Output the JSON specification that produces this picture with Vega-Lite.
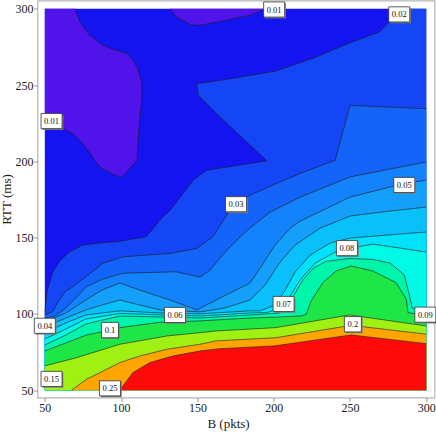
{
"$schema":"https://vega.github.io/schema/vega-lite/v6.json",
"autosize":"none","width":397,"height":397,
"padding":{"left":37.5,"top":0.5,"right":1.5,"bottom":34.5},
"background":"white",
"config":{"view":{"stroke":"#b4b4b4","strokeWidth":1.2}},
"datasets":{
"poly":[
{"l":"p00","i":0,"B":50,"R":300,"e":1},{"l":"p00","i":1,"B":300,"R":300,"e":1},{"l":"p00","i":2,"B":300,"R":50,"e":1},{"l":"p00","i":3,"B":50,"R":50,"e":1},
{"l":"bA","i":0,"B":50,"R":300,"e":1},{"l":"bA","i":1,"B":69.7,"R":300},{"l":"bA","i":2,"B":73,"R":291.2},{"l":"bA","i":3,"B":79.5,"R":282.5},{"l":"bA","i":4,"B":88.1,"R":276},{"l":"bA","i":5,"B":97.2,"R":272.7},{"l":"bA","i":6,"B":103.8,"R":270.7},{"l":"bA","i":7,"B":107.7,"R":266.2},{"l":"bA","i":8,"B":111,"R":260.9},{"l":"bA","i":9,"B":113.6,"R":251.1},{"l":"bA","i":10,"B":113.6,"R":240},{"l":"bA","i":11,"B":111.7,"R":222.3},{"l":"bA","i":12,"B":110.4,"R":200.7},{"l":"bA","i":13,"B":100.5,"R":189.6},{"l":"bA","i":14,"B":94.6,"R":191.6},{"l":"bA","i":15,"B":86.1,"R":196.2},{"l":"bA","i":16,"B":82.8,"R":200.7},{"l":"bA","i":17,"B":78.2,"R":207.3},{"l":"bA","i":18,"B":73,"R":213.8},{"l":"bA","i":19,"B":67.7,"R":218.4},{"l":"bA","i":20,"B":61.8,"R":221.6},{"l":"bA","i":21,"B":50,"R":223.6},
{"l":"bB","i":0,"B":132,"R":300},{"l":"bB","i":1,"B":136.4,"R":294.5},{"l":"bB","i":2,"B":145.1,"R":289.7},{"l":"bB","i":3,"B":151.7,"R":289.1},{"l":"bB","i":4,"B":162.2,"R":291.2},{"l":"bB","i":5,"B":184.1,"R":295.6},{"l":"bB","i":6,"B":195,"R":300},
{"l":"p02","i":0,"B":286.2,"R":300},{"l":"p02","i":1,"B":275.7,"R":291.2},{"l":"p02","i":2,"B":269.2,"R":284.7},{"l":"p02","i":3,"B":249.5,"R":277.5},{"l":"p02","i":4,"B":227.8,"R":268.3},{"l":"p02","i":5,"B":201.6,"R":259.2},{"l":"p02","i":6,"B":162.2,"R":252.6},{"l":"p02","i":7,"B":149.5,"R":250.9},{"l":"p02","i":8,"B":150.6,"R":243.3},{"l":"p02","i":9,"B":164.8,"R":229.1},{"l":"p02","i":10,"B":195.5,"R":200.3},{"l":"p02","i":11,"B":156.1,"R":194.2},{"l":"p02","i":12,"B":147.3,"R":187.6},{"l":"p02","i":13,"B":132.2,"R":168},{"l":"p02","i":14,"B":127.6,"R":164},{"l":"p02","i":15,"B":116.5,"R":150.7},{"l":"p02","i":16,"B":99,"R":147.5},{"l":"p02","i":17,"B":86,"R":146.5},{"l":"p02","i":18,"B":74.7,"R":145},{"l":"p02","i":19,"B":66,"R":140.5},{"l":"p02","i":20,"B":59.8,"R":134.6},{"l":"p02","i":21,"B":55,"R":127},{"l":"p02","i":22,"B":51.5,"R":115},{"l":"p02","i":23,"B":50.5,"R":106},{"l":"p02","i":24,"B":50,"R":100.8},{"l":"p02","i":25,"B":50,"R":50,"e":1},{"l":"p02","i":26,"B":300,"R":50,"e":1},{"l":"p02","i":27,"B":300,"R":300,"e":1},
{"l":"p03","i":0,"B":50,"R":99.3},{"l":"p03","i":1,"B":55.1,"R":101.4},{"l":"p03","i":2,"B":59.4,"R":109.1},{"l":"p03","i":3,"B":63.8,"R":115},{"l":"p03","i":4,"B":68.2,"R":117.6},{"l":"p03","i":5,"B":76.9,"R":124.3},{"l":"p03","i":6,"B":87.9,"R":133.1},{"l":"p03","i":7,"B":101,"R":137.4},{"l":"p03","i":8,"B":132,"R":139.6},{"l":"p03","i":9,"B":149.5,"R":142.9},{"l":"p03","i":10,"B":160.2,"R":150.5},{"l":"p03","i":11,"B":169.2,"R":164.7},{"l":"p03","i":12,"B":175.3,"R":171.9},{"l":"p03","i":13,"B":184.5,"R":177.8},{"l":"p03","i":14,"B":204.2,"R":186.5},{"l":"p03","i":15,"B":217.3,"R":192},{"l":"p03","i":16,"B":240.3,"R":200.7},{"l":"p03","i":17,"B":250.1,"R":236.7},{"l":"p03","i":18,"B":300,"R":234.5},{"l":"p03","i":19,"B":300,"R":50,"e":1},{"l":"p03","i":20,"B":50,"R":50,"e":1},
{"l":"p04","i":0,"B":50,"R":97.3},{"l":"p04","i":1,"B":56.6,"R":98.6},{"l":"p04","i":2,"B":63.8,"R":103.8},{"l":"p04","i":3,"B":70.3,"R":110.4},{"l":"p04","i":4,"B":76.9,"R":117.6},{"l":"p04","i":5,"B":87.9,"R":122.8},{"l":"p04","i":6,"B":101,"R":126.6},{"l":"p04","i":7,"B":136,"R":127.6},{"l":"p04","i":8,"B":151.7,"R":124.1},{"l":"p04","i":9,"B":158.3,"R":128.7},{"l":"p04","i":10,"B":168.1,"R":140.5},{"l":"p04","i":11,"B":181.2,"R":153.6},{"l":"p04","i":12,"B":197.6,"R":166.7},{"l":"p04","i":13,"B":217.3,"R":176.5},{"l":"p04","i":14,"B":250.1,"R":189.8},{"l":"p04","i":15,"B":300,"R":199.6},{"l":"p04","i":16,"B":300,"R":50,"e":1},{"l":"p04","i":17,"B":50,"R":50,"e":1},
{"l":"p05","i":0,"B":50,"R":94.7},{"l":"p05","i":1,"B":63.8,"R":100.6},{"l":"p05","i":2,"B":76.9,"R":109.1},{"l":"p05","i":3,"B":87.4,"R":115.6},{"l":"p05","i":4,"B":99.2,"R":120.2},{"l":"p05","i":5,"B":112.3,"R":115.6},{"l":"p05","i":6,"B":132,"R":109.1},{"l":"p05","i":7,"B":149.7,"R":102.6},{"l":"p05","i":8,"B":164.8,"R":110.4},{"l":"p05","i":9,"B":184.5,"R":120.2},{"l":"p05","i":10,"B":192.4,"R":132},{"l":"p05","i":11,"B":200.9,"R":145.1},{"l":"p05","i":12,"B":210.8,"R":156.2},{"l":"p05","i":13,"B":217.3,"R":160.8},{"l":"p05","i":14,"B":250.1,"R":176.5},{"l":"p05","i":15,"B":286.2,"R":185.7},{"l":"p05","i":16,"B":300,"R":187.6},{"l":"p05","i":17,"B":300,"R":50,"e":1},{"l":"p05","i":18,"B":50,"R":50,"e":1},
{"l":"p06","i":0,"B":50,"R":91.4},{"l":"p06","i":1,"B":63.8,"R":97.3},{"l":"p06","i":2,"B":76.9,"R":102.6},{"l":"p06","i":3,"B":87.4,"R":105.8},{"l":"p06","i":4,"B":99.2,"R":109.1},{"l":"p06","i":5,"B":112.3,"R":105.8},{"l":"p06","i":6,"B":125.5,"R":102.6},{"l":"p06","i":7,"B":151.7,"R":101.3},{"l":"p06","i":8,"B":168.1,"R":103.9},{"l":"p06","i":9,"B":184.5,"R":109.1},{"l":"p06","i":10,"B":194.4,"R":118.9},{"l":"p06","i":11,"B":204.2,"R":134},{"l":"p06","i":12,"B":214,"R":145.1},{"l":"p06","i":13,"B":230.4,"R":156.2},{"l":"p06","i":14,"B":250.1,"R":164.1},{"l":"p06","i":15,"B":271.8,"R":166.9},{"l":"p06","i":16,"B":300,"R":170},{"l":"p06","i":17,"B":300,"R":50,"e":1},{"l":"p06","i":18,"B":50,"R":50,"e":1},
{"l":"p07","i":0,"B":50,"R":87.5},{"l":"p07","i":1,"B":63.8,"R":94.1},{"l":"p07","i":2,"B":76.9,"R":99.3},{"l":"p07","i":3,"B":99.2,"R":102},{"l":"p07","i":4,"B":125.5,"R":100.6},{"l":"p07","i":5,"B":151.7,"R":100},{"l":"p07","i":6,"B":184.5,"R":102},{"l":"p07","i":7,"B":191.1,"R":102},{"l":"p07","i":8,"B":200.9,"R":105.8},{"l":"p07","i":9,"B":207.5,"R":115.6},{"l":"p07","i":10,"B":214,"R":127.4},{"l":"p07","i":11,"B":223.9,"R":138.5},{"l":"p07","i":12,"B":237,"R":146.4},{"l":"p07","i":13,"B":250.1,"R":149.7},{"l":"p07","i":14,"B":289.5,"R":152.9},{"l":"p07","i":15,"B":300,"R":153.6},{"l":"p07","i":16,"B":300,"R":50,"e":1},{"l":"p07","i":17,"B":50,"R":50,"e":1},
{"l":"p08","i":0,"B":50,"R":83.5},{"l":"p08","i":1,"B":63.8,"R":90.1},{"l":"p08","i":2,"B":76.9,"R":96.7},{"l":"p08","i":3,"B":99.2,"R":100.3},{"l":"p08","i":4,"B":125.5,"R":99.3},{"l":"p08","i":5,"B":151.7,"R":98.6},{"l":"p08","i":6,"B":184.5,"R":100.6},{"l":"p08","i":7,"B":196.3,"R":101},{"l":"p08","i":8,"B":204.2,"R":103.9},{"l":"p08","i":9,"B":210.8,"R":111.7},{"l":"p08","i":10,"B":217.3,"R":122.2},{"l":"p08","i":11,"B":227.2,"R":133.3},{"l":"p08","i":12,"B":240.3,"R":140.5},{"l":"p08","i":13,"B":250.1,"R":143.1},{"l":"p08","i":14,"B":265.2,"R":145.7},{"l":"p08","i":15,"B":282.9,"R":143.1},{"l":"p08","i":16,"B":300,"R":140.5},{"l":"p08","i":17,"B":300,"R":50,"e":1},{"l":"p08","i":18,"B":50,"R":50,"e":1},
{"l":"p09","i":0,"B":50,"R":79.6},{"l":"p09","i":1,"B":63.8,"R":86.2},{"l":"p09","i":2,"B":76.9,"R":93.4},{"l":"p09","i":3,"B":99.2,"R":98.6},{"l":"p09","i":4,"B":125.5,"R":98},{"l":"p09","i":5,"B":151.7,"R":97.3},{"l":"p09","i":6,"B":184.5,"R":99.3},{"l":"p09","i":7,"B":204.2,"R":100.6},{"l":"p09","i":8,"B":208,"R":104},{"l":"p09","i":9,"B":213,"R":112},{"l":"p09","i":10,"B":219,"R":122},{"l":"p09","i":11,"B":226,"R":130},{"l":"p09","i":12,"B":234.4,"R":134.5},{"l":"p09","i":13,"B":249.7,"R":136.3},{"l":"p09","i":14,"B":265,"R":135.7},{"l":"p09","i":15,"B":276.4,"R":133.3},{"l":"p09","i":16,"B":285.6,"R":125.5},{"l":"p09","i":17,"B":288.9,"R":112.4},{"l":"p09","i":18,"B":290.8,"R":103.9},{"l":"p09","i":19,"B":300,"R":101.3},{"l":"p09","i":20,"B":300,"R":50,"e":1},{"l":"p09","i":21,"B":50,"R":50,"e":1},
{"l":"p10","i":0,"B":50,"R":75.7},{"l":"p10","i":1,"B":63.8,"R":81},{"l":"p10","i":2,"B":76.9,"R":86},{"l":"p10","i":3,"B":92.7,"R":89.4},{"l":"p10","i":4,"B":99.2,"R":91},{"l":"p10","i":5,"B":125.5,"R":94.5},{"l":"p10","i":6,"B":151.7,"R":95.4},{"l":"p10","i":7,"B":184.5,"R":97.3},{"l":"p10","i":8,"B":204.2,"R":98},{"l":"p10","i":9,"B":217.3,"R":98.6},{"l":"p10","i":10,"B":221.3,"R":99.7},{"l":"p10","i":11,"B":224.5,"R":108.4},{"l":"p10","i":12,"B":232.2,"R":120.4},{"l":"p10","i":13,"B":240.9,"R":128.1},{"l":"p10","i":14,"B":250.8,"R":131.4},{"l":"p10","i":15,"B":265,"R":128.1},{"l":"p10","i":16,"B":280.3,"R":120.4},{"l":"p10","i":17,"B":286.9,"R":109.6},{"l":"p10","i":18,"B":288,"R":100.8},{"l":"p10","i":19,"B":300,"R":99.1},{"l":"p10","i":20,"B":300,"R":50,"e":1},{"l":"p10","i":21,"B":50,"R":50,"e":1},
{"l":"p15","i":0,"B":50,"R":65.9},{"l":"p15","i":1,"B":70.8,"R":71.3},{"l":"p15","i":2,"B":99.2,"R":80.1},{"l":"p15","i":3,"B":129.9,"R":85.5},{"l":"p15","i":4,"B":151.7,"R":87.7},{"l":"p15","i":5,"B":162.2,"R":88.8},{"l":"p15","i":6,"B":201.6,"R":91},{"l":"p15","i":7,"B":249.7,"R":99.3},{"l":"p15","i":8,"B":300,"R":92.1},{"l":"p15","i":9,"B":300,"R":50,"e":1},{"l":"p15","i":10,"B":50,"R":50,"e":1},
{"l":"p20","i":0,"B":67.5,"R":50},{"l":"p20","i":1,"B":77.4,"R":57.2},{"l":"p20","i":2,"B":86.1,"R":61.5},{"l":"p20","i":3,"B":99.2,"R":68.1},{"l":"p20","i":4,"B":112.3,"R":72.4},{"l":"p20","i":5,"B":129.9,"R":76.8},{"l":"p20","i":6,"B":151.7,"R":80.1},{"l":"p20","i":7,"B":162.2,"R":82.3},{"l":"p20","i":8,"B":201.6,"R":84.4},{"l":"p20","i":9,"B":250.8,"R":92.5},{"l":"p20","i":10,"B":300,"R":86.7},{"l":"p20","i":11,"B":300,"R":50,"e":1},
{"l":"p25","i":0,"B":99.2,"R":50},{"l":"p25","i":1,"B":107.7,"R":61.5},{"l":"p25","i":2,"B":118.9,"R":68.1},{"l":"p25","i":3,"B":134,"R":72.4},{"l":"p25","i":4,"B":151.7,"R":75.7},{"l":"p25","i":5,"B":164.8,"R":77.2},{"l":"p25","i":6,"B":200.3,"R":79},{"l":"p25","i":7,"B":250.8,"R":86.2},{"l":"p25","i":8,"B":300,"R":80.5},{"l":"p25","i":9,"B":300,"R":50,"e":1}
],
"labs":[
{"t":"0.01","B":54.4,"R":226.4},{"t":"0.01","B":200.3,"R":299.5},{"t":"0.02","B":282.3,"R":296.3},{"t":"0.03","B":175.3,"R":171.9},{"t":"0.04","B":50,"R":92.2},{"t":"0.05","B":285.6,"R":184.5},{"t":"0.06","B":135.3,"R":99.3},{"t":"0.07","B":206.5,"R":106.5},{"t":"0.08","B":248,"R":143.1},{"t":"0.09","B":299.4,"R":99.5},{"t":"0.1","B":92.7,"R":89.4},{"t":"0.15","B":54.4,"R":57.4},{"t":"0.2","B":251.9,"R":93.2},{"t":"0.25","B":92.7,"R":51.2}
]},
"data":{"name":"poly"},
"encoding":{
"x":{"field":"B","type":"quantitative","scale":{"domain":[45.2,305.4],"nice":false,"zero":false},"axis":{"values":[50,100,150,200,250,300],"title":"B (pkts)","grid":false,"domain":false,"tickColor":"#999999","tickSize":4,"labelFont":"Liberation Serif","labelFontSize":12,"labelColor":"#222222","labelPadding":1,"titleFont":"Liberation Serif","titleFontSize":13,"titleFontWeight":"normal","titleColor":"#222222","titleX":190.5,"titlePadding":4}},
"y":{"field":"R","type":"quantitative","scale":{"domain":[45.2,305.4],"nice":false,"zero":false},"axis":{"values":[50,100,150,200,250,300],"title":"RTT (ms)","grid":false,"domain":false,"tickColor":"#999999","tickSize":4,"labelFont":"Liberation Serif","labelFontSize":12,"labelColor":"#222222","labelPadding":0.5,"titleFont":"Liberation Serif","titleFontSize":13,"titleFontWeight":"normal","titleColor":"#222222","titlePadding":2}}
},
"layer":[
{"transform":[{"filter":"datum.l=='p00'"}],"mark":{"type":"line","interpolate":"linear-closed","fill":"#1414f0","strokeWidth":0},"encoding":{"order":{"field":"i","type":"quantitative"}}},
{"transform":[{"filter":"datum.l=='bA'"}],"mark":{"type":"line","interpolate":"linear-closed","fill":"#5014eb","strokeWidth":0},"encoding":{"order":{"field":"i","type":"quantitative"}}},
{"transform":[{"filter":"datum.l=='bB'"}],"mark":{"type":"line","interpolate":"linear-closed","fill":"#5014eb","strokeWidth":0},"encoding":{"order":{"field":"i","type":"quantitative"}}},
{"transform":[{"filter":"datum.l=='p02'"}],"mark":{"type":"line","interpolate":"linear-closed","fill":"#1446f5","strokeWidth":0},"encoding":{"order":{"field":"i","type":"quantitative"}}},
{"transform":[{"filter":"datum.l=='p03'"}],"mark":{"type":"line","interpolate":"linear-closed","fill":"#1464fa","strokeWidth":0},"encoding":{"order":{"field":"i","type":"quantitative"}}},
{"transform":[{"filter":"datum.l=='p04'"}],"mark":{"type":"line","interpolate":"linear-closed","fill":"#1482fa","strokeWidth":0},"encoding":{"order":{"field":"i","type":"quantitative"}}},
{"transform":[{"filter":"datum.l=='p05'"}],"mark":{"type":"line","interpolate":"linear-closed","fill":"#14a0fa","strokeWidth":0},"encoding":{"order":{"field":"i","type":"quantitative"}}},
{"transform":[{"filter":"datum.l=='p06'"}],"mark":{"type":"line","interpolate":"linear-closed","fill":"#0ac0fa","strokeWidth":0},"encoding":{"order":{"field":"i","type":"quantitative"}}},
{"transform":[{"filter":"datum.l=='p07'"}],"mark":{"type":"line","interpolate":"linear-closed","fill":"#00e1fa","strokeWidth":0},"encoding":{"order":{"field":"i","type":"quantitative"}}},
{"transform":[{"filter":"datum.l=='p08'"}],"mark":{"type":"line","interpolate":"linear-closed","fill":"#00fae6","strokeWidth":0},"encoding":{"order":{"field":"i","type":"quantitative"}}},
{"transform":[{"filter":"datum.l=='p09'"}],"mark":{"type":"line","interpolate":"linear-closed","fill":"#00f5aa","strokeWidth":0},"encoding":{"order":{"field":"i","type":"quantitative"}}},
{"transform":[{"filter":"datum.l=='p10'"}],"mark":{"type":"line","interpolate":"linear-closed","fill":"#1ee646","strokeWidth":0},"encoding":{"order":{"field":"i","type":"quantitative"}}},
{"transform":[{"filter":"datum.l=='p15'"}],"mark":{"type":"line","interpolate":"linear-closed","fill":"#a0f014","strokeWidth":0},"encoding":{"order":{"field":"i","type":"quantitative"}}},
{"transform":[{"filter":"datum.l=='p20'"}],"mark":{"type":"line","interpolate":"linear-closed","fill":"#ffa500","strokeWidth":0},"encoding":{"order":{"field":"i","type":"quantitative"}}},
{"transform":[{"filter":"datum.l=='p25'"}],"mark":{"type":"line","interpolate":"linear-closed","fill":"#ff0a0a","strokeWidth":0},"encoding":{"order":{"field":"i","type":"quantitative"}}},
{"transform":[{"filter":"datum.e!=1"}],"mark":{"type":"line","stroke":"#1a1a1a","strokeWidth":0.7,"strokeOpacity":0.85},"encoding":{"detail":{"field":"l"},"order":{"field":"i","type":"quantitative"}}},
{"data":{"name":"labs"},"mark":{"type":"point","filled":true,"fill":"#808080","strokeWidth":0,"opacity":1,"xOffset":1.3,"yOffset":1.3},"encoding":{"shape":{"condition":{"test":"length(datum.t)<4","value":"M-1,-0.9L1,-0.9L1,0.9L-1,0.9Z"},"value":"M-1,-0.72L1,-0.72L1,0.72L-1,0.72Z"},"size":{"condition":{"test":"length(datum.t)<4","value":289},"value":441}}},
{"data":{"name":"labs"},"mark":{"type":"point","filled":true,"fill":"white","stroke":"#333333","strokeWidth":0.8,"opacity":1},"encoding":{"shape":{"condition":{"test":"length(datum.t)<4","value":"M-1,-0.9L1,-0.9L1,0.9L-1,0.9Z"},"value":"M-1,-0.72L1,-0.72L1,0.72L-1,0.72Z"},"size":{"condition":{"test":"length(datum.t)<4","value":289},"value":441}}},
{"data":{"name":"labs"},"mark":{"type":"text","font":"Liberation Serif","fontSize":8.5,"color":"#111111"},"encoding":{"text":{"field":"t"}}}
]
}
